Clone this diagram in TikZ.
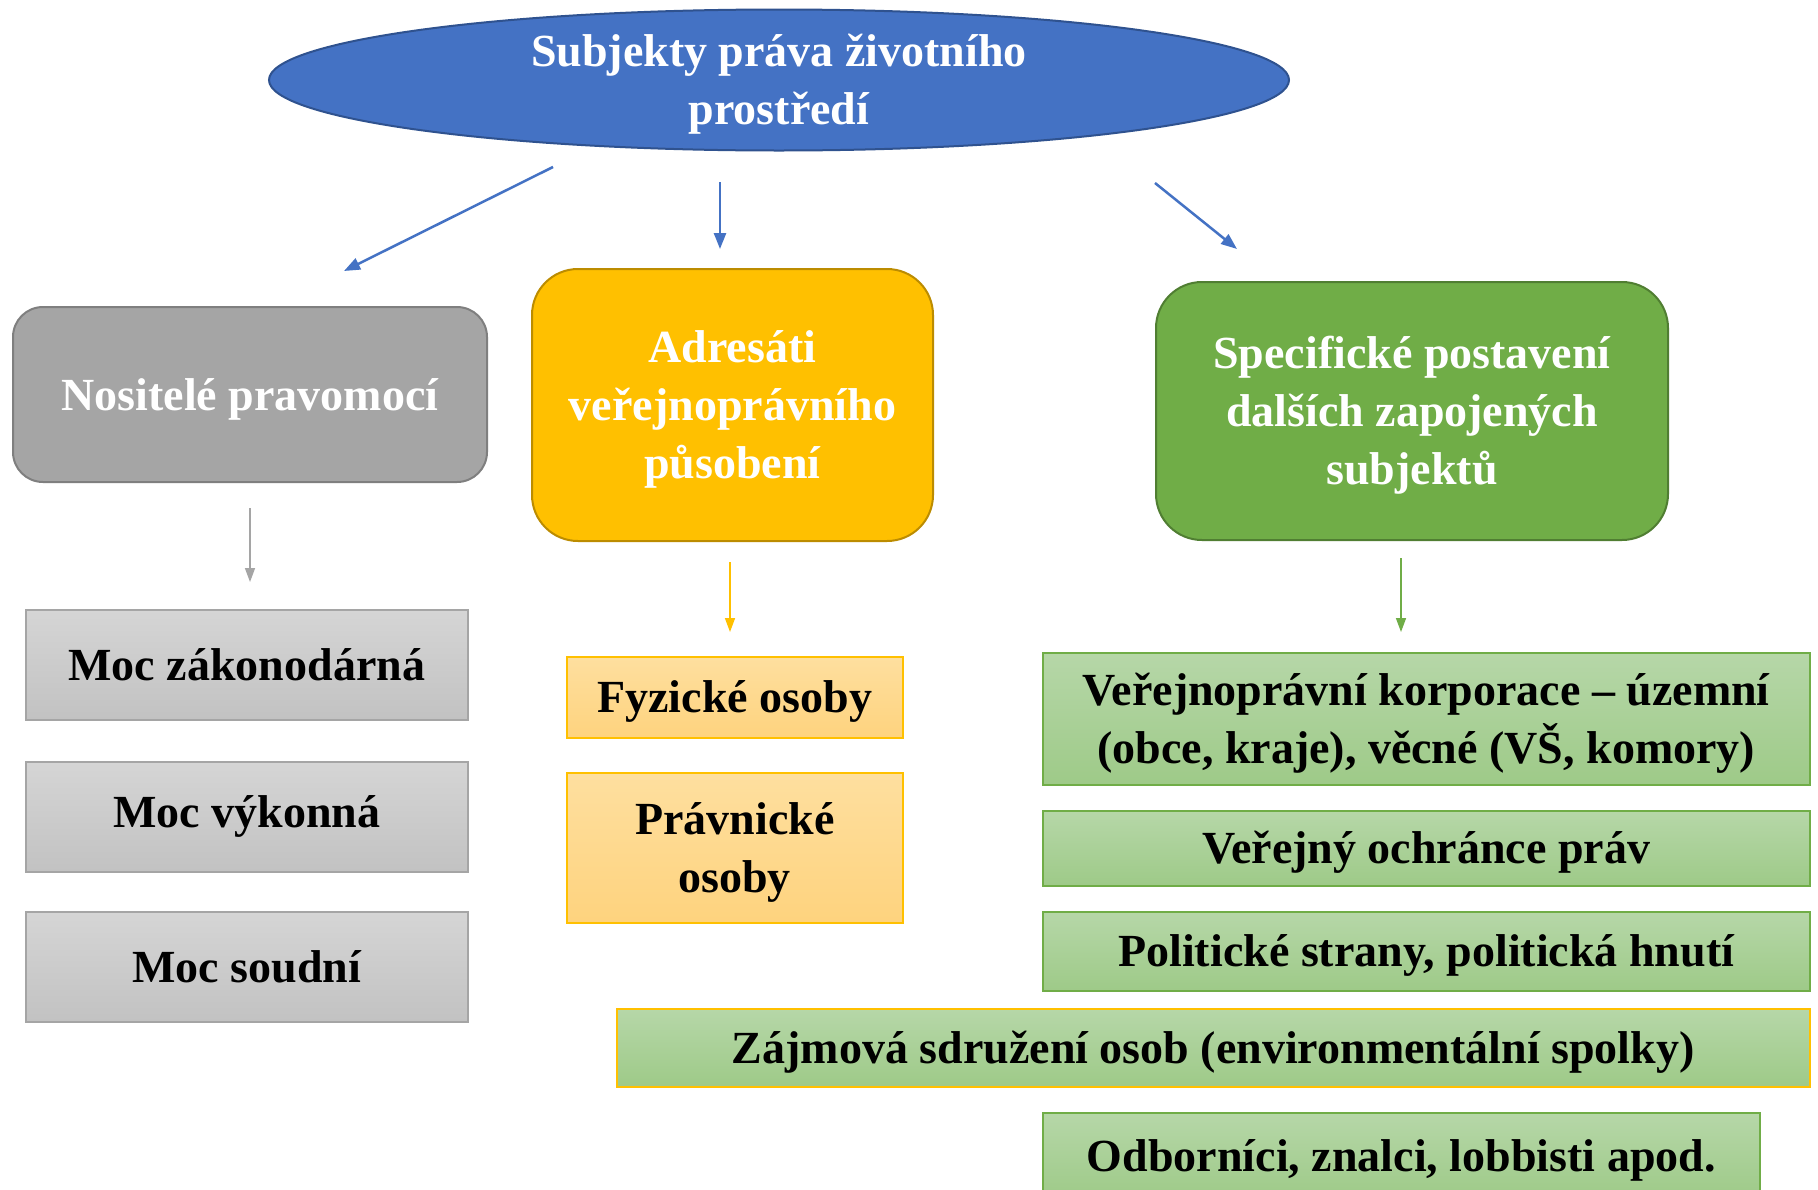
\documentclass[tikz,border=0pt]{standalone}
\usepackage{fontspec}
\setmainfont{Liberation Serif}
\usetikzlibrary{shapes.geometric,arrows.meta}
\definecolor{blueF}{HTML}{4472C4}
\definecolor{blueD}{HTML}{2F528F}
\definecolor{grayF}{HTML}{A5A5A5}
\definecolor{grayD}{HTML}{7F7F7F}
\definecolor{yelF}{HTML}{FFC000}
\definecolor{yelD}{HTML}{BC8C00}
\definecolor{greF}{HTML}{70AD47}
\definecolor{greD}{HTML}{507E32}
\definecolor{lgT}{HTML}{D5D5D5}
\definecolor{lgB}{HTML}{C2C2C2}
\definecolor{lyT}{HTML}{FEDF9F}
\definecolor{lyB}{HTML}{FED37E}
\definecolor{lnT}{HTML}{B6D7A8}
\definecolor{lnB}{HTML}{9ECA88}
\newcommand\txtsz{\fontsize{46}{58}\selectfont}
\newcommand\dn[1]{\raisebox{0pt}[\dimexpr\height+8pt\relax][\depth]{\begin{tabular}{@{}c@{}}#1\end{tabular}}}
\newcommand\dnsmall[1]{\raisebox{0pt}[\dimexpr\height-20pt\relax][\dimexpr\depth-28pt\relax]{\begin{tabular}{@{}c@{}}#1\end{tabular}}}
\tikzset{
  topbox/.style={rectangle, rounded corners=40pt, line width=2pt, anchor=north west,
    align=center, text=white, font=\txtsz\bfseries, inner sep=0pt},
  subbox/.style={rectangle, line width=1.5pt, anchor=north west,
    align=center, text=black, font=\txtsz\bfseries, inner sep=0pt},
  graysub/.style={subbox, draw=grayF, top color=lgT, bottom color=lgB},
  yelsub/.style={subbox, draw=yelF, top color=lyT, bottom color=lyB},
  gresub/.style={subbox, draw=greF, top color=lnT, bottom color=lnB},
  bigarrow/.style={draw=blueF, line width=2.5pt, -{Triangle[length=16pt,width=12pt]}},
  smallarrow/.style={line width=1.5pt, -{Triangle[length=14pt,width=10pt]}},
}
\begin{document}
\begin{tikzpicture}[x=1pt,y=-1pt]
\useasboundingbox (0,0) rectangle (1818,1189);
\fill[white] (0,0) rectangle (1818,1189);

\node[ellipse, draw=blueD, fill=blueF, line width=2pt, minimum width=1020pt, minimum height=141pt,
  inner sep=0pt, text=white, font=\txtsz\bfseries, align=center] (root) at (779,80)
  {\dnsmall{Subjekty práva životního\\prostředí}};

\node[topbox, draw=grayD, fill=grayF, rounded corners=30pt, minimum width=474pt, minimum height=175pt] (nos) at (12,306) {\dn{Nositelé pravomocí}};
\node[topbox, draw=yelD, fill=yelF, rounded corners=46pt, minimum width=401pt, minimum height=272pt] (adr) at (531,268) {\dn{Adresáti\\veřejnoprávního\\působení}};
\node[topbox, draw=greD, fill=greF, rounded corners=46pt, minimum width=512pt, minimum height=258pt] (spe) at (1155,281) {\dn{Specifické postavení\\dalších zapojených\\subjektů}};

% arrows from root
\coordinate (a1s) at (553,167); \coordinate (a1e) at (344,271);
\coordinate (a2s) at (720,182); \coordinate (a2e) at (720,249);
\coordinate (a3s) at (1155,183); \coordinate (a3e) at (1237,249);
\draw[bigarrow] (a1s) -- (a1e);
\draw[bigarrow] (a2s) -- (a2e);
\draw[bigarrow] (a3s) -- (a3e);

% small arrows
\coordinate (g1) at (250,508); \coordinate (g2) at (250,582);
\coordinate (y1) at (730,562); \coordinate (y2) at (730,632);
\coordinate (n1) at (1401,558); \coordinate (n2) at (1401,632);
\draw[smallarrow, draw=grayF] (g1) -- (g2);
\draw[smallarrow, draw=yelF] (y1) -- (y2);
\draw[smallarrow, draw=greF] (n1) -- (n2);

% gray column
\node[graysub, minimum width=442pt, minimum height=110pt] (m1) at (25,609) {Moc zákonodárná};
\node[graysub, minimum width=442pt, minimum height=110pt] (m2) at (25,761) {Moc výkonná};
\node[graysub, minimum width=442pt, minimum height=110pt] (m3) at (25,911) {Moc soudní};

% yellow column
\node[yelsub, minimum width=336pt, minimum height=81pt] (f1) at (566,656) {\dn{Fyzické osoby}};
\node[yelsub, minimum width=336pt, minimum height=150pt] (f2) at (566,772) {\dn{Právnické\\osoby}};

% green column
\node[gresub, minimum width=767pt, minimum height=132pt] (s1) at (1042,652) {\dn{Veřejnoprávní korporace – územní\\(obce, kraje), věcné (VŠ, komory)}};
\node[gresub, minimum width=767pt, minimum height=75pt] (s2) at (1042,810) {\dn{Veřejný ochránce práv}};
\node[gresub, minimum width=767pt, minimum height=79pt] (s3) at (1042,911) {\dn{Politické strany, politická hnutí}};
\node[gresub, draw=yelF, minimum width=1193pt, minimum height=78pt] (s4) at (616,1008) {\dn{Zájmová sdružení osob (environmentální spolky)}};
\node[gresub, minimum width=717pt, minimum height=86pt] (s5) at (1042,1112) {\dn{Odborníci, znalci, lobbisti apod.}};
\end{tikzpicture}
\end{document}
